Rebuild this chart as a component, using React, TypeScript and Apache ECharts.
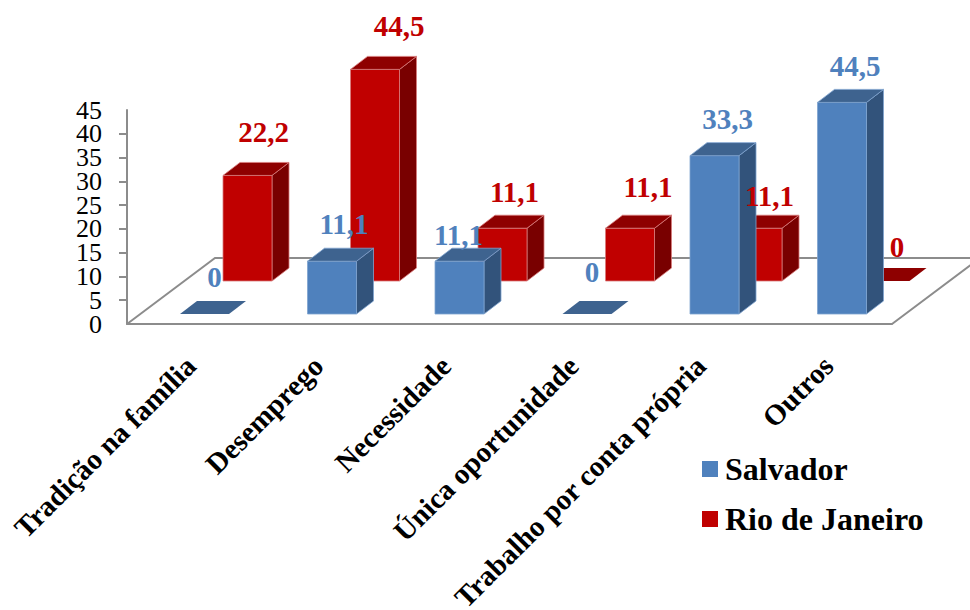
import React, { useEffect, useRef } from "react";
import * as echarts from "echarts";

const categories = [
  "Tradição na família",
  "Desemprego",
  "Necessidade",
  "Única oportunidade",
  "Trabalho por conta própria",
  "Outros",
];
const salvador = [0, 11.1, 11.1, 0, 33.3, 44.5];
const rioDeJaneiro = [22.2, 44.5, 11.1, 11.1, 11.1, 0];
const yRange = { min: 0, max: 45 };
const yStep = 5;

const FONT = "'Liberation Serif', 'Times New Roman', serif";
const BLUE = { front: "#4F81BD", top: "#3E638F", side: "#32537B", edge: "#7FA3CF" };
const RED = { front: "#C00000", top: "#8E0000", side: "#790000", edge: "#D87C7C" };
const AXIS_GRAY = "#8C8C8C";

// Projection of the oblique 3D view, in pixels.
const BAR_WIDTH = 49;
const BAR_DX = 17;
const BAR_DY = -13;
const FLOOR_DX = 88;
const FLOOR_DY = -66;

// Hand-placed value labels, relative to the bar's top-front centre.
const salvadorLabelShift = [[10, -37], [12, -37], [-1, -26], [5, -42], [13, -37], [13, -36]];
const rioLabelShift = [[16, -43], [24, -43], [12, -36], [18, -41], [12, -32], [12, -34]];

const yLabelStyle = { margin: 25, padding: [4, 0, 0, 0], color: "#000000", fontFamily: FONT, fontSize: 26 };

const barSeries = (
  name: string,
  values: number[],
  colors: typeof BLUE,
  shiftX: number,
  shiftY: number,
  labelShift: number[][]
) => ({
  name,
  type: "custom",
  itemStyle: { color: colors.front },
  encode: { x: 0, y: 1 },
  data: values.map((v, i) => [i, v]),
  renderItem: (_params: any, api: any) => {
    const i = api.value(0);
    const v = api.value(1);
    const top = api.coord([i, v]);
    const base = api.coord([i, 0]);
    const xL = top[0] + shiftX - BAR_WIDTH / 2;
    const xR = xL + BAR_WIDTH;
    const yT = top[1] + shiftY;
    const yB = base[1] + shiftY;
    const stroke = { stroke: colors.edge, lineWidth: 0.8, lineJoin: "round" };
    const children: any[] = [];
    if (v > 0) {
      children.push({
        type: "polygon",
        shape: { points: [[xR, yT], [xR + BAR_DX, yT + BAR_DY], [xR + BAR_DX, yB + BAR_DY], [xR, yB]] },
        style: { fill: colors.side, ...stroke },
      });
      children.push({
        type: "rect",
        shape: { x: xL, y: yT, width: BAR_WIDTH, height: yB - yT },
        style: { fill: colors.front, ...stroke },
      });
    }
    children.push({
      type: "polygon",
      shape: { points: [[xL, yT], [xR, yT], [xR + BAR_DX, yT + BAR_DY], [xL + BAR_DX, yT + BAR_DY]] },
      style: { fill: colors.top, ...(v > 0 ? stroke : {}) },
    });
    const [lx, ly] = labelShift[i];
    children.push({
      type: "text",
      z2: 100,
      style: {
        text: String(v).replace(".", ","),
        x: top[0] + shiftX + lx,
        y: yT + ly,
        align: "center",
        verticalAlign: "middle",
        fill: colors.front,
        fontFamily: FONT,
        fontWeight: "bold",
        fontSize: 29,
      },
    });
    return { type: "group", children };
  },
});

// Floor outline: the two receding edges and the back edge.
const floorSeries = {
  name: "floor",
  type: "custom",
  silent: true,
  encode: { x: 0, y: 1 },
  data: [[0, 0]],
  renderItem: (_params: any, api: any) => {
    const size = api.size([1, 0]);
    const start = api.coord([0, 0]);
    const x0 = start[0] - size[0] / 2;
    const x1 = x0 + size[0] * categories.length;
    const y0 = start[1];
    return {
      type: "polyline",
      shape: {
        points: [
          [x0, y0],
          [x0 + FLOOR_DX, y0 + FLOOR_DY],
          [x1 + FLOOR_DX, y0 + FLOOR_DY],
          [x1, y0],
        ],
      },
      style: { stroke: AXIS_GRAY, lineWidth: 2, fill: "none" },
    };
  },
};

export default function App() {
  const ref = useRef<HTMLDivElement>(null);
  useEffect(() => {
    const chart = echarts.init(ref.current!, null, { renderer: "svg" });
    chart.setOption({
      animation: false,
      backgroundColor: "#FFFFFF",
      textStyle: { fontFamily: FONT },
      grid: { left: 127, top: 110, width: 765, height: 214, outerBoundsMode: "none" },
      xAxis: {
        type: "category",
        data: categories,
        boundaryGap: true,
        axisLine: { lineStyle: { color: AXIS_GRAY, width: 2 } },
        axisTick: { length: 9, lineStyle: { color: AXIS_GRAY, width: 2 } },
        axisLabel: {
          interval: 0,
          rotate: 45,
          margin: 37,
          color: "#000000",
          fontFamily: FONT,
          fontWeight: "bold",
          fontSize: 29,
        },
      },
      yAxis: [
        {
          // Inner ticks: the tightly stacked labels would otherwise be thinned out
          // next to the end values, so those two live on the axis below.
          type: "value",
          ...yRange,
          interval: yStep,
          splitLine: { show: false },
          axisLine: { show: true, lineStyle: { color: AXIS_GRAY, width: 2 } },
          axisTick: { show: true, length: 8, lineStyle: { color: AXIS_GRAY, width: 2 } },
          axisLabel: { ...yLabelStyle, showMinLabel: false, showMaxLabel: false },
        },
        {
          type: "value",
          position: "left",
          ...yRange,
          interval: yRange.max,
          splitLine: { show: false },
          axisLine: { show: false },
          axisTick: { show: false },
          axisLabel: yLabelStyle,
        },
      ],
      legend: {
        orient: "vertical",
        left: 702,
        top: 453,
        padding: 0,
        itemWidth: 16,
        itemHeight: 16,
        itemGap: 18,
        icon: "rect",
        data: ["Salvador", "Rio de Janeiro"],
        textStyle: { color: "#000000", fontFamily: FONT, fontWeight: "bold", fontSize: 32, padding: [0, 0, 0, 2] },
      },
      series: [
        floorSeries,
        barSeries("Rio de Janeiro", rioDeJaneiro, RED, 56.75, -43, rioLabelShift),
        barSeries("Salvador", salvador, BLUE, 13.75, -10, salvadorLabelShift),
      ],
    });
    return () => chart.dispose();
  }, []);
  return <div ref={ref} style={{ position: "absolute", left: 0, top: 0, width: 970, height: 610 }} />;
}
